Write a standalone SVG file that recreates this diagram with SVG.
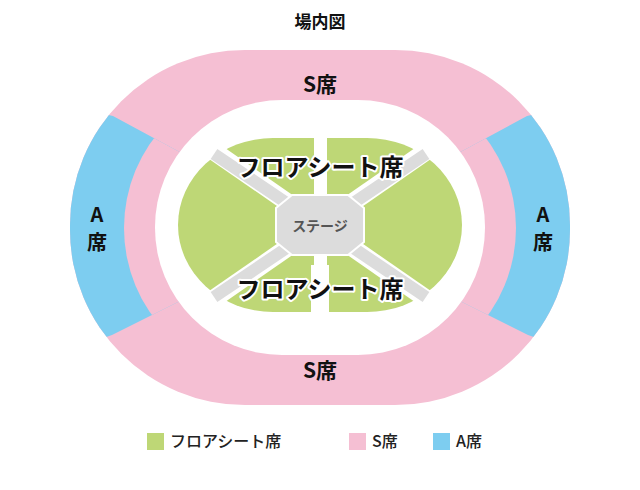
<svg xmlns="http://www.w3.org/2000/svg" width="640" height="490" viewBox="0 0 640 490">
<style>
text{font-family:"Noto Sans CJK JP","Noto Sans",sans-serif;font-weight:bold;text-anchor:middle;fill:#111}
.fl{font-size:24px;stroke:#fff;stroke-width:4;paint-order:stroke;stroke-linejoin:round}
.lg{font-size:16px;font-weight:500;text-anchor:start;fill:#222}
.pink{fill:#f5bfd3}.blue{fill:#7dcdf0}.green{fill:#bed776}
</style>
<defs>
<clipPath id="w"><polygon points="40,100 113,116 200,163 200,291 112,335 40,360"/><polygon points="600,100 527,116 440,163 440,291 528,335 600,360"/></clipPath>
<clipPath id="gc"><rect x="150" y="120" width="164" height="210"/><rect x="327" y="120" width="164" height="210"/></clipPath>
</defs>
<rect width="640" height="490" fill="#fff"/>
<text x="320" y="28" font-size="17">場内図</text>
<g id="s-seat"><rect class="pink" x="70" y="50" width="500" height="355" rx="175" ry="175"/></g>
<g id="a-seat"><rect class="blue" x="70" y="50" width="500" height="355" rx="175" ry="175" clip-path="url(#w)"/>
<rect class="pink" x="124" y="78" width="392" height="300" rx="150" ry="150" clip-path="url(#w)"/></g>
<g id="arena"><rect fill="#fff" x="155" y="100" width="330" height="255" rx="127" ry="127"/></g>
<g id="floor"><rect class="green" x="178" y="138" width="284" height="174" rx="95" ry="87" clip-path="url(#gc)"/></g>
<g id="aisles">
<g stroke="#fff" stroke-width="18" stroke-linecap="butt"><line x1="212" y1="150" x2="428" y2="300"/><line x1="428" y1="150" x2="212" y2="300"/><line x1="320" y1="265" x2="320" y2="312"/></g>
<g stroke="#dcdcdc" stroke-width="12"><line x1="214" y1="154" x2="426" y2="297"/><line x1="426" y1="154" x2="214" y2="297"/></g>
</g>
<g id="stage"><polygon points="292,195 348,195 364,208 364,242 348,255 292,255 276,242 276,208" fill="#dcdcdc" stroke="#fff" stroke-width="2"/>
<text x="320" y="231" font-size="14" style="fill:#555">ステージ</text></g>
<text class="fl" x="320" y="176">フロアシート席</text>
<text class="fl" x="320" y="298">フロアシート席</text>
<text x="320" y="92" font-size="21">S席</text>
<text x="320" y="378" font-size="21">S席</text>
<text x="97" y="222" font-size="20">A</text><text x="97" y="250" font-size="20">席</text>
<text x="543" y="222" font-size="20">A</text><text x="543" y="250" font-size="20">席</text>
<g id="legend">
<rect class="green" x="147" y="433" width="17" height="17"/><text class="lg" x="170" y="447">フロアシート席</text>
<rect class="pink" x="349" y="433" width="17" height="17"/><text class="lg" x="372" y="447">S席</text>
<rect class="blue" x="433" y="433" width="17" height="17"/><text class="lg" x="456" y="447">A席</text>
</g>
</svg>
